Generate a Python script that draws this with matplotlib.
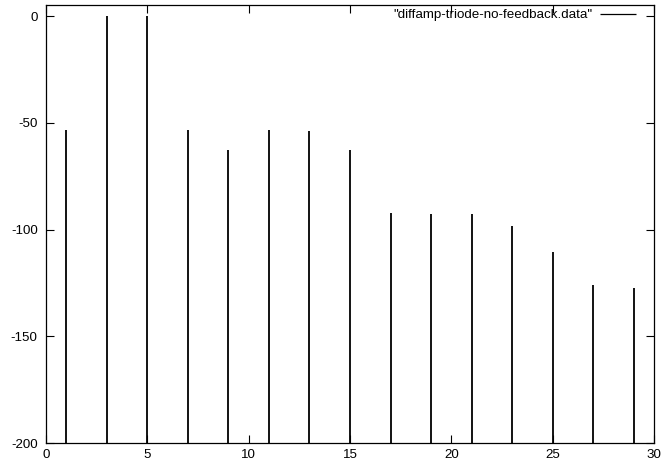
import matplotlib
matplotlib.use("Agg")
import matplotlib.pyplot as plt

# harmonic number and level (dB)
harmonics = [1, 3, 5, 7, 9, 11, 13, 15, 17, 19, 21, 23, 25, 27, 29]
levels = [-53.4, 0.0, 0.0, -53.2, -62.8, -53.2, -53.6, -62.8,
          -92.4, -92.7, -92.7, -98.4, -110.7, -126.0, -127.4]
xticks = [0, 5, 10, 15, 20, 25, 30]
yticks = [0, -50, -100, -150, -200]
label = '"diffamp-triode-no-feedback.data"'

plt.rcParams['font.family'] = ['Liberation Sans', 'DejaVu Sans']
plt.rcParams['font.size'] = 9.6
plt.rcParams['axes.unicode_minus'] = False

fig = plt.figure(figsize=(6.62, 4.68), dpi=100)
ax = fig.add_axes([46 / 662, 1 - 443 / 468, (654 - 46) / 662, (443 - 5) / 468])

ax.vlines(harmonics, -200, levels, color='black', lw=1.3, label=label)

ax.set_xlim(0, 30)
ax.set_ylim(-200, 5.2)
ax.set_xticks(xticks)
ax.set_yticks(yticks)
ax.tick_params(direction='in', length=6, width=0.8, top=True, right=True,
               colors='black')
ax.tick_params(axis='y', pad=6)
ax.tick_params(axis='x', pad=4)
for s in ax.spines.values():
    s.set_linewidth(0.9)

leg = ax.legend(loc='upper right', frameon=False, handlelength=2.7,
                handletextpad=0.55, markerfirst=False,
                bbox_to_anchor=(0.985, 1.012), borderaxespad=0.3)
for h in leg.legend_handles:
    h.set_linewidth(0.9)

fig.savefig("out.png", dpi=100)
